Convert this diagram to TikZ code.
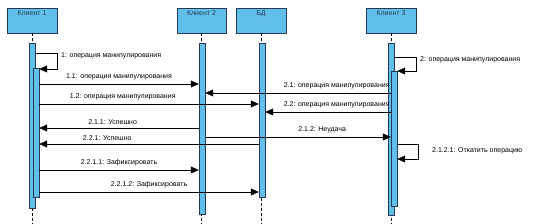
\documentclass[tikz,border=0pt]{standalone}
\usepackage{fontspec}
\setmainfont{Liberation Sans}
\usetikzlibrary{arrows.meta}
\definecolor{barblue}{RGB}{96,192,234}
\definecolor{edgeblue}{RGB}{38,56,84}

\tikzset{
  head/.style={draw=edgeblue, fill=barblue, minimum width=50pt, minimum height=25pt, inner sep=0pt},
  headtext/.style={font=\fontsize{7}{8}\selectfont, text=edgeblue, inner sep=3pt, anchor=north},
  bar/.style={draw=edgeblue, fill=barblue, minimum width=6pt, inner sep=0pt, anchor=north},
  life/.style={dashed, line width=0.5pt, dash pattern=on 3pt off 2pt},
  msg/.style={-{Triangle[length=8pt,width=7pt]}, line width=0.5pt},
  lbl/.style={font=\fontsize{7}{8}\selectfont, inner sep=1pt, yshift=2.5pt}
}

\begin{document}
\begin{tikzpicture}[x=1pt, y=-1pt]
    \useasboundingbox (0,0) rectangle (540,224);

    %Define the heads
    \node[head, label={[headtext]north:Клиент 1}] (h1) at (32,20.5) {};
    \node[head, minimum width=49pt, label={[headtext]north:Клиент 2}] (h2) at (201.5,20.5) {};
    \node[head, label={[headtext]north:БД}] (h3) at (261,20.5) {};
    \node[head, label={[headtext]north:Клиент 3}] (h4) at (391,20.5) {};

    %Define the lifelines
    \draw[life] (h1.south) -- (h1.south |- 0,224);
    \draw[life] (h2.south) -- (h2.south |- 0,224);
    \draw[life] (h3.south) -- (h3.south |- 0,224);
    \draw[life] (h4.south) -- (h4.south |- 0,224);

    % Add the activation bars
    \node[bar, minimum height=165pt] (c1a) at (32,43) {};
    \node[bar, minimum height=129pt] (c1b) at (36,68) {};
    \node[bar, minimum height=171pt] (c2) at (202,43) {};
    \node[bar, minimum height=154pt] (db) at (262,43) {};
    \node[bar, minimum height=172pt] (c3a) at (391,43) {};
    \node[bar, minimum height=135pt] (c3b) at (394,71) {};

    % Add the self calls
    \draw[msg] (c1a.east |- 0,53) -| (57,69) -- (c1b.east |- 0,69);
    \node[lbl, anchor=west, yshift=0pt] (l1) at (60,58) {1: операция манипулирования};
    \draw[msg] (c3a.east |- 0,57) -| (416,71) -- (c3b.east |- 0,71);
    \node[lbl, anchor=west, yshift=0pt] (l2) at (419,62) {2: операция манипулирования};

    % Add the calls of Client 1
    \draw[msg] (c1b.east |- 0,84) -- (c2.west |- 0,84)
        node[lbl, above, pos=0.5] {1.1: операция манипулирования};
    \draw[msg] (c1b.east |- 0,104) -- (db.west |- 0,104)
        node[lbl, above, pos=0.38] {1.2: операция манипулирования};

    % Add the calls of Client 3
    \draw[msg] (c3b.west |- 0,93) -- (c2.east |- 0,93)
        node[lbl, anchor=south east, pos=0] {2.1: операция манипулирования};
    \draw[msg] (c3b.west |- 0,112) -- (db.east |- 0,112)
        node[lbl, anchor=south east, pos=0] {2.2: операция манипулирования};

    % Add the answers
    \draw[msg] (c2.west |- 0,128) -- (c1b.east |- 0,128)
        node[lbl, above, pos=0.54] {2.1.1: Успешно};
    \draw[msg] (c2.east |- 0,137) -- (c3b.west |- 0,137)
        node[lbl, above, pos=0.63] {2.1.2: Неудача};
    \draw[msg] (db.west |- 0,144) -- (c1b.east |- 0,144)
        node[lbl, above, pos=0.69] {2.2.1: Успешно};

    % Add the rollback
    \draw[msg] (c3b.east |- 0,144) -| (418,159) -- (c3b.east |- 0,159);
    \node[lbl, anchor=west, yshift=0pt] (l3) at (431,153) {2.1.2.1: Откатить операцию};

    % Add the commits
    \draw[msg] (c1b.east |- 0,170) -- (c2.west |- 0,170)
        node[lbl, above, pos=0.5] {2.2.1.1: Зафиксировать};
    \draw[msg] (c1b.east |- 0,192) -- (db.west |- 0,192)
        node[lbl, above, pos=0.5] {2.2.1.2: Зафиксировать};
\end{tikzpicture}
\end{document}
